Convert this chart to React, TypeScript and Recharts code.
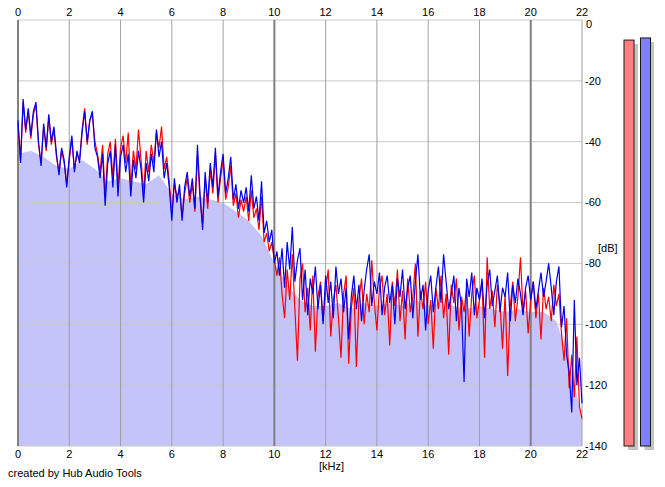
import {
  Area,
  Bar,
  BarChart,
  Cell,
  ComposedChart,
  Line,
  ReferenceLine,
  XAxis,
  YAxis,
} from 'recharts'

// spectrum sampled every 0.1 kHz, 0 … 22 kHz (dB)
const STEP_KHZ = 0.1
const blueDb = [
  -33, -47, -26, -36, -29, -38, -30, -27, -40, -48,
  -34, -42, -31, -40, -35, -44, -51, -42, -46, -55,
  -45, -38, -50, -43, -47, -37, -30, -40, -33, -30,
  -42, -45, -52, -44, -61, -47, -43, -55, -41, -58,
  -45, -41, -50, -44, -58, -46, -52, -43, -49, -60,
  -47, -53, -44, -50, -36, -45, -40, -52, -47, -55,
  -66, -52, -60, -54, -66, -55, -50, -58, -52, -62,
  -41, -57, -69, -50, -60, -47, -55, -42, -58, -50,
  -44, -57, -52, -45, -59, -54, -62, -56, -60, -55,
  -63, -51, -62, -58, -66, -53, -70, -66, -73, -69,
  -80, -76, -84, -75, -88, -73, -82, -68, -86, -79,
  -75, -92, -82, -97, -85, -90, -81, -95, -87, -100,
  -84, -93, -86, -98, -81, -90, -85, -96, -88, -105,
  -91, -84, -95, -87, -99, -89, -82, -77, -94, -86,
  -90, -83, -97, -88, -84, -93, -87, -100, -85, -91,
  -82, -95, -88, -84, -98, -86, -77, -92, -87, -102,
  -89, -84, -96, -88, -81, -93, -77, -86, -95, -90,
  -84, -99, -88, -94, -119, -85, -91, -83, -97, -88,
  -92, -85, -98, -87, -82, -94, -89, -84, -96, -88,
  -91, -83, -99, -87, -93, -85, -90, -97, -88, -84,
  -92, -86, -95, -89, -83, -91, -86, -80, -88, -97,
  -86, -81, -101, -94, -110, -116, -129, -92, -120, -111,
  -126,
]
const redDb = [
  -34, -46, -27, -37, -30, -39, -31, -28, -41, -47,
  -35, -43, -32, -41, -36, -45, -50, -43, -47, -54,
  -46, -39, -49, -44, -46, -36, -29, -41, -33, -31,
  -40, -44, -50, -41, -58, -44, -40, -52, -39, -55,
  -42, -38, -47, -37, -55, -43, -49, -36, -46, -57,
  -43, -50, -41, -47, -37, -42, -35, -49, -45, -53,
  -64, -54, -58, -56, -65, -57, -52, -60, -54, -63,
  -44, -59, -67, -52, -62, -49, -57, -44, -60, -52,
  -46, -59, -55, -48, -61, -57, -65, -59, -63, -58,
  -66, -56, -65, -62, -69, -58, -73, -70, -76, -73,
  -79, -84, -78, -90, -98, -82, -92, -77, -95, -112,
  -85, -80, -96, -88, -102, -84, -109, -91, -86, -99,
  -89, -82, -104, -92, -87, -98, -111, -90, -84, -113,
  -95, -88, -114, -92, -85, -100, -90, -96, -79, -93,
  -102, -88, -84, -97, -90, -107, -86, -94, -82, -99,
  -89, -105, -85, -96, -91, -80, -104, -89, -95, -86,
  -100, -92, -108, -88, -95, -84, -98, -90, -110, -87,
  -93, -85, -102, -91, -96, -88, -104, -90, -84, -98,
  -92, -86, -111, -78, -95, -89, -101, -87, -93, -108,
  -90, -117, -94, -86, -99, -91, -78, -96, -89, -103,
  -92, -86, -98, -90, -105, -88, -95, -91, -99, -87,
  -94, -90, -103, -112, -98, -121, -110, -124, -104, -127,
  -131,
]

// averaged spectrum (filled), every 0.5 kHz
const AVG_STEP_KHZ = 0.5
const avgDb = [
  -44, -43, -45, -48, -49, -46, -49, -53, -52, -53,
  -54, -51, -57, -59, -58, -59, -60, -63, -66, -71,
  -80, -87, -92, -94, -94, -93, -95, -93, -94, -93,
  -94, -92, -94, -93, -94, -95, -94, -95, -96, -95,
  -96, -96, -99, -112, -131,
]

const khzTicks = [0, 2, 4, 6, 8, 10, 12, 14, 16, 18, 20, 22]
const dbTicks = [0, -20, -40, -60, -80, -100, -120, -140]
const majorKhz = [0, 10, 20]

const channels = ['L', 'R']
const channelLevels = [-6.6, -5.9]
const channelColors = ['#ff8080', '#8080ff']

const spectrum = blueDb.map((db, i) => ({ khz: +(i * STEP_KHZ).toFixed(1), blue: db, red: redDb[i] }))
const average = avgDb.map((db, i) => ({ khz: i * AVG_STEP_KHZ, avg: db }))
const levels = channels.map((ch, i) => ({ ch, range: [-140, channelLevels[i]] }))

const font = { fill: '#000', fontSize: 11, fontFamily: 'Liberation Sans' }

function DbTick({ x, y, payload }: any) {
  // the 0 dB label sits lower and to the right, under the "22" of the top axis
  const top = payload.value === 0
  return (
    <text x={x + (top ? 1 : 0)} y={y + (top ? 4 : 0)} dy="0.355em" textAnchor="start" {...font}>
      {payload.value}
    </text>
  )
}

function LevelBar(props: any) {
  const { x, y, width, height, fill } = props
  return (
    <g>
      <rect x={x + 4} y={y + 4} width={width} height={height} fill="#c4c4c4" />
      <rect x={x} y={y} width={width} height={height} fill={fill} stroke="#1a1a1a" strokeWidth={1} />
    </g>
  )
}

export default function App() {
  return (
    <div style={{ position: 'relative', width: 665, height: 487, background: '#fff', fontFamily: 'Liberation Sans' }}>
      <style>{'body{margin:0}'}</style>
      <ComposedChart
        width={665}
        height={487}
        data={spectrum}
        margin={{ top: 0, right: 0, bottom: 15, left: 18 }}
        style={{ position: 'absolute', left: 0, top: 0 }}
      >
        <XAxis
          dataKey="khz"
          type="number"
          domain={[0, 22]}
          ticks={khzTicks}
          interval={0}
          height={26}
          axisLine={false}
          tickLine={false}
          tickSize={0}
          tickMargin={4}
          tick={font}
        />
        <XAxis
          xAxisId="top"
          orientation="top"
          dataKey="khz"
          type="number"
          domain={[0, 22]}
          ticks={khzTicks}
          interval={0}
          height={20}
          axisLine={false}
          tickLine={false}
          tickSize={0}
          tickMargin={4}
          tick={font}
        />
        <YAxis
          orientation="right"
          type="number"
          domain={[-140, 0]}
          ticks={dbTicks}
          interval={0}
          width={83}
          axisLine={false}
          tickLine={false}
          tickSize={0}
          tickMargin={3}
          tick={<DbTick />}
        />
        <Area
          data={average}
          dataKey="avg"
          type="linear"
          baseValue="dataMin"
          stroke="none"
          fill="#c4c4fa"
          fillOpacity={1}
          isAnimationActive={false}
        />
        {dbTicks.map((db) => (
          <ReferenceLine key={'h' + db} y={db} stroke="#c8c8c8" strokeWidth={1} />
        ))}
        {khzTicks.map((k) => (
          <ReferenceLine
            key={'v' + k}
            x={k}
            stroke={majorKhz.includes(k) ? '#808080' : '#a0a0a0'}
            strokeWidth={majorKhz.includes(k) ? 2 : 1}
          />
        ))}
        <Line dataKey="red" type="linear" stroke="#ff0000" strokeWidth={1.2} dot={false} isAnimationActive={false} />
        <Line dataKey="blue" type="linear" stroke="#0000f0" strokeWidth={1.2} dot={false} isAnimationActive={false} />
      </ComposedChart>

      <BarChart
        width={33}
        height={487}
        data={levels}
        margin={{ top: 20, right: 0, bottom: 41, left: 0 }}
        style={{ position: 'absolute', left: 621, top: 0 }}
      >
        <XAxis dataKey="ch" hide />
        <YAxis type="number" domain={[-140, 0]} hide />
        <Bar dataKey="range" barSize={10} shape={LevelBar} isAnimationActive={false}>
          {channels.map((ch, i) => (
            <Cell key={ch} fill={channelColors[i]} />
          ))}
        </Bar>
      </BarChart>

      <div style={{ position: 'absolute', left: 319, top: 460, fontSize: 11 }}>[kHz]</div>
      <div style={{ position: 'absolute', left: 598, top: 242, fontSize: 11 }}>[dB]</div>
      <div style={{ position: 'absolute', left: 8, top: 467, fontSize: 11 }}>created by Hub Audio Tools</div>
    </div>
  )
}
